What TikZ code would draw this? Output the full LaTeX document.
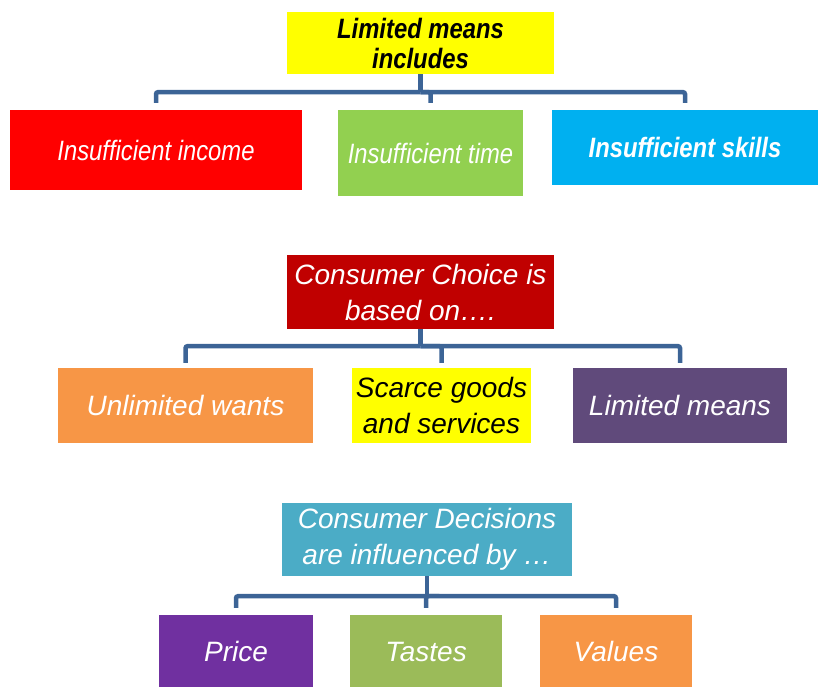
\documentclass[tikz,border=0pt]{standalone}
\usepackage{fontspec}
\setmainfont{Liberation Sans}
\newfontfamily\narrowsf[FakeStretch=0.85]{Liberation Sans}
\definecolor{busblue}{HTML}{3C6496}
\definecolor{limyellow}{HTML}{FFFF00}
\definecolor{incred}{HTML}{FF0000}
\definecolor{timgreen}{HTML}{92D050}
\definecolor{sklblue}{HTML}{00B0F0}
\definecolor{chored}{HTML}{C00000}
\definecolor{wntorange}{HTML}{F79646}
\definecolor{mnspurple}{HTML}{604A7B}
\definecolor{decteal}{HTML}{4BACC6}
\definecolor{prcpurple}{HTML}{7030A0}
\definecolor{tstgreen}{HTML}{9BBB59}
\begin{document}
\begin{tikzpicture}[x=1pt,y=-1pt,
  box/.style={inner sep=0pt, align=center, text=white},
  small/.style={font=\narrowsf\fontsize{28}{30}\selectfont\itshape},
  smallbold/.style={font=\narrowsf\fontsize{28}{30}\selectfont\bfseries\itshape},
  big/.style={font=\fontsize{28}{36}\selectfont\itshape},
  bus/.style={draw=busblue, line width=4.5pt, rounded corners=2pt}]
  \useasboundingbox (0,0) rectangle (818,686);
  % Limited means
  \node[box, smallbold, fill=limyellow, text=black, minimum width=267pt, minimum height=62pt] (lim) at (420.5,43) {Limited means\\includes};
  \node[box, small, fill=incred, minimum width=292pt, minimum height=80pt] (inc) at (156,150) {Insufficient income};
  \node[box, small, fill=timgreen, minimum width=185pt, minimum height=86pt] (tim) at (430.5,153) {Insufficient time};
  \node[box, smallbold, fill=sklblue, minimum width=266pt, minimum height=75pt] (skl) at (685,147.5) {Insufficient skills};
  \draw[bus] (lim.south) -- ++(0,18) coordinate (limbus);
  \draw[bus, shorten >=7pt] (limbus) -| (inc.north);
  \draw[bus, shorten >=7pt] (limbus) -| (tim.north);
  \draw[bus, shorten >=7pt] (limbus) -| (skl.north);
  % Consumer choice
  \node[box, big, fill=chored, minimum width=267pt, minimum height=74pt] (cho) at (420.5,292) {Consumer Choice is\\based on….};
  \node[box, big, fill=wntorange, minimum width=255pt, minimum height=75pt] (wnt) at (185.5,405.5) {Unlimited wants};
  \node[box, big, fill=limyellow, text=black, minimum width=179pt, minimum height=75pt] (scr) at (441.5,405.5) {Scarce goods\\and services};
  \node[box, big, fill=mnspurple, minimum width=214pt, minimum height=75pt] (mns) at (680,405.5) {Limited means};
  \draw[bus] (cho.south) -- ++(0,17) coordinate (chobus);
  \draw[bus, shorten >=5pt] (chobus) -| (wnt.north);
  \draw[bus, shorten >=5pt] (chobus) -| (scr.north);
  \draw[bus, shorten >=5pt] (chobus) -| (mns.north);
  % Consumer decisions
  \node[box, big, fill=decteal, minimum width=290pt, minimum height=73pt] (dec) at (427,539.5) {Consumer Decisions\\are influenced by …};
  \node[box, big, fill=prcpurple, minimum width=154pt, minimum height=73pt] (prc) at (236,651.5) {Price};
  \node[box, big, fill=tstgreen, minimum width=152pt, minimum height=73pt] (tst) at (426,651.5) {Tastes};
  \node[box, big, fill=wntorange, minimum width=152pt, minimum height=73pt] (val) at (616,651.5) {Values};
  \draw[bus] (dec.south) -- ++(0,20) coordinate (decbus);
  \draw[bus, shorten >=7pt] (decbus) -| (prc.north);
  \draw[bus, shorten >=7pt] (decbus) -| (tst.north);
  \draw[bus, shorten >=7pt] (decbus) -| (val.north);
\end{tikzpicture}
\end{document}
